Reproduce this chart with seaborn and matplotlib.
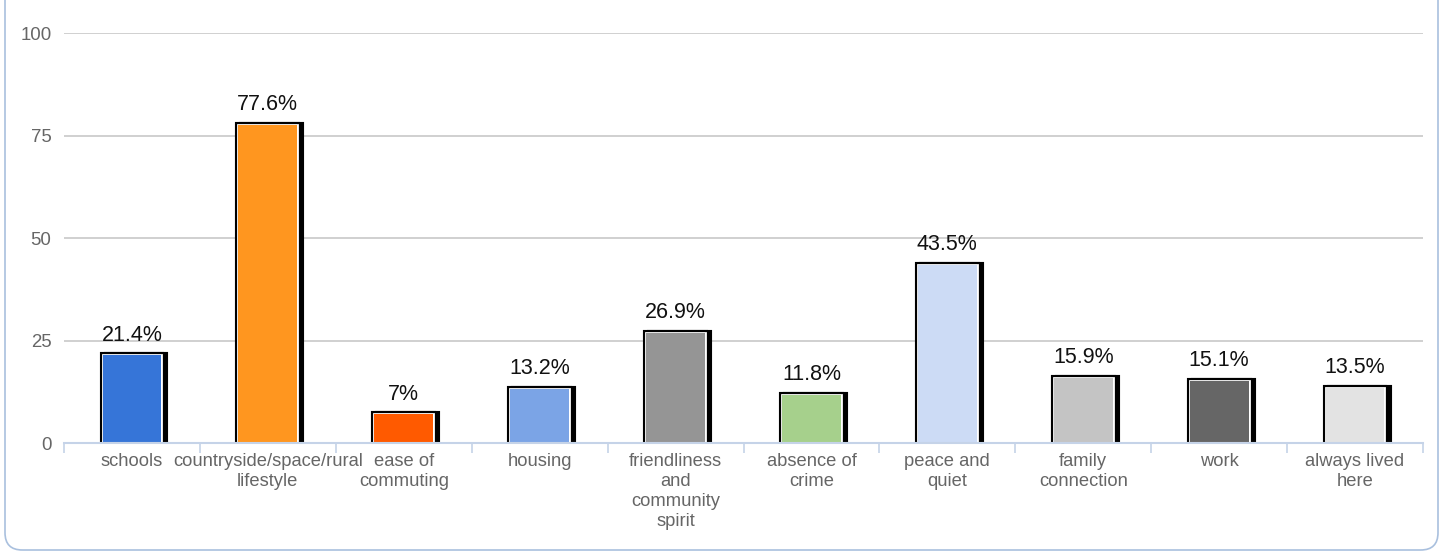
import matplotlib
matplotlib.use("Agg")
import matplotlib.pyplot as plt
import matplotlib.patheffects as pe
from matplotlib.patches import FancyBboxPatch
import seaborn as sns
import pandas as pd
import numpy as np

categories = ["schools", "countryside/space/rural\nlifestyle", "ease of\ncommuting", "housing",
              "friendliness\nand\ncommunity\nspirit", "absence of\ncrime", "peace and\nquiet",
              "family\nconnection", "work", "always lived\nhere"]
values = [21.4, 77.6, 7, 13.2, 26.9, 11.8, 43.5, 15.9, 15.1, 13.5]
colors = ["#3675D8", "#FF961F", "#FF5A00", "#7BA4E6", "#959595", "#A6D08C",
          "#CCDBF5", "#C4C4C4", "#666666", "#E3E3E3"]
yticks = [0, 25, 50, 75, 100]

sns.set_theme(style="white")
plt.rcParams['font.family'] = ['Liberation Sans', 'DejaVu Sans']

fig = plt.figure(figsize=(14.43, 5.56), dpi=100)
ax = fig.add_axes([64/1443, 1-443/556, (1423-64)/1443, (443-33)/556])

df = pd.DataFrame({"cat": categories, "val": values})
sns.barplot(data=df, x="cat", y="val", hue="cat", palette=colors, legend=False, saturation=1,
            width=0.433, edgecolor="none", linewidth=0, ax=ax, zorder=3)

for p in ax.patches:
    p.set_path_effects([pe.Stroke(offset=(2.9, 0), linewidth=4.4, foreground="black"),
                        pe.Stroke(linewidth=4.4, foreground="black"),
                        pe.Stroke(linewidth=2.0, foreground="white"),
                        pe.Normal()])

for i, v in enumerate(values):
    ax.annotate(f"{v:g}%", (i, v), xytext=(0, 7), textcoords="offset points",
                ha="center", va="bottom", fontsize=15.5, color="#111111", zorder=5)

ax.set_ylim(0, 100)
ax.set_xlim(-0.5, len(categories) - 0.5)
ax.set_yticks(yticks)
ax.set_yticklabels([str(t) for t in yticks], color="#666666", fontsize=13.4)
ax.tick_params(axis="y", length=0, pad=9)
ax.yaxis.grid(True, color="#C8C8C8", linewidth=1.2, zorder=0)
ax.set_axisbelow(True)

ax.set_xticks(range(len(categories)))
ax.set_xticklabels(categories, color="#666666", fontsize=13.2, linespacing=1.25)
ax.tick_params(axis="x", which="major", length=0, pad=7)
ax.set_xticks(np.arange(-0.5, len(categories)), minor=True)
ax.tick_params(axis="x", which="minor", length=7, width=1.2, color="#C5D3E8", direction="out", bottom=True)

ax.set_xlabel("")
ax.set_ylabel("")
for s in ["top", "right", "left"]:
    ax.spines[s].set_visible(False)
ax.spines["bottom"].set_color("#C5D3E8")
ax.spines["bottom"].set_linewidth(1.5)
ax.spines["bottom"].set_zorder(4)

border = FancyBboxPatch((5/1443, 6/556), (1438-5)/1443, 600/556,
                        boxstyle="round,pad=0,rounding_size=0.012",
                        transform=fig.transFigure, fill=False, edgecolor="#A9C0DE", linewidth=1.2,
                        mutation_aspect=1443/556)
fig.patches.append(border)

fig.savefig("out.png", dpi=100)
